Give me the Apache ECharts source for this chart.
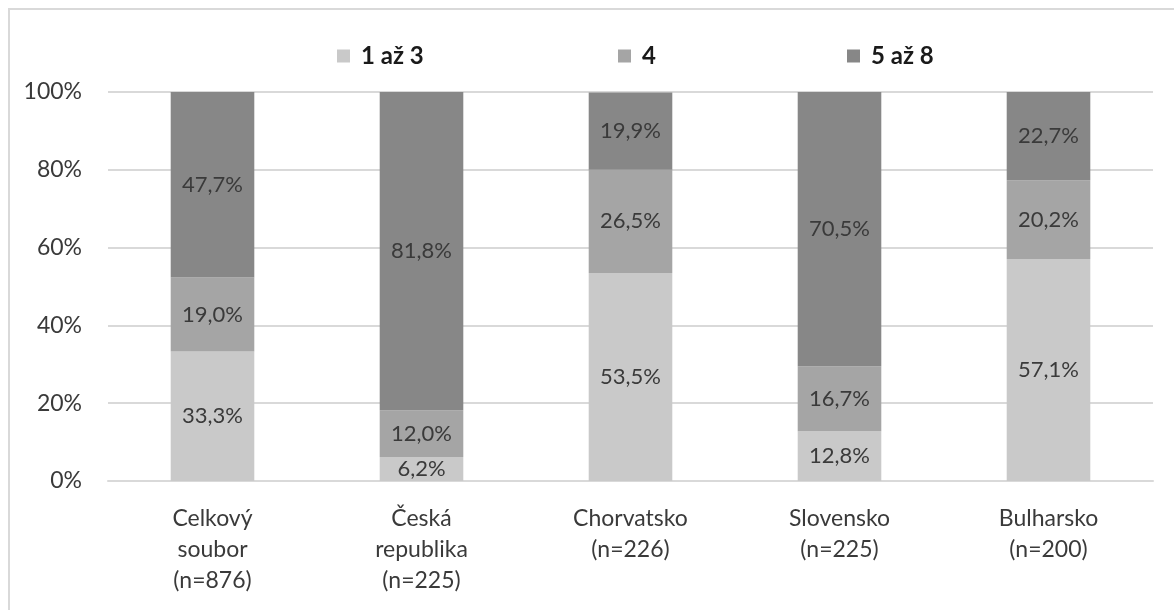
<!DOCTYPE html>
<html>
<head>
<meta charset="utf-8">
<script src="https://cdn.jsdelivr.net/npm/echarts@6/dist/echarts.min.js"></script>
<style>
  html, body { margin: 0; padding: 0; background: #fff; }
  #chart { width: 1174px; height: 610px; }
</style>
</head>
<body>
<div id="chart"></div>
<script>
const categories = ['Celkový\nsoubor\n(n=876)', 'Česká\nrepublika\n(n=225)', 'Chorvatsko\n(n=226)', 'Slovensko\n(n=225)', 'Bulharsko\n(n=200)'];
const seriesNames = ['1 až 3', '4', '5 až 8'];
const low = [33.3, 6.2, 53.5, 12.8, 57.1];
const mid = [19.0, 12.0, 26.5, 16.7, 20.2];
const high = [47.7, 81.8, 19.9, 70.5, 22.7];
const yTicks = [0, 20, 40, 60, 80, 100];

const colors = ['#c9c9c9', '#a5a5a5', '#878787'];
const font = 'Lato';
const textColor = '#3a3a3a';

const chart = echarts.init(document.getElementById('chart'));

const fmt = v => v.toFixed(1).replace('.', ',') + '%';

const makeSeries = (name, data, i) => ({
  name: name,
  type: 'bar',
  stack: 'total',
  data: data,
  barCategoryGap: '60%',
  itemStyle: { color: colors[i] },
  label: {
    show: true,
    position: 'inside',
    color: textColor,
    fontFamily: font,
    fontSize: 22,
    formatter: p => fmt(p.value)
  },
  emphasis: { disabled: true }
});

// one legend per item so they sit where Excel spread them
const legendAt = (name, left) => ({
  data: [name],
  left: left,
  top: 39,
  itemWidth: 13,
  itemHeight: 13,
  icon: 'rect',
  textStyle: { color: '#1a1a1a', fontFamily: font, fontSize: 24, fontWeight: 'bold', padding: [0, 0, 0, 6] }
});

chart.setOption({
  animation: false,
  graphic: [{
    type: 'rect',
    shape: { x: 9, y: 9, width: 1200, height: 700 },
    style: { fill: 'none', stroke: '#d9d9d9', lineWidth: 2 },
    silent: true
  }],
  legend: [
    legendAt(seriesNames[0], 332),
    legendAt(seriesNames[1], 613),
    legendAt(seriesNames[2], 842)
  ],
  grid: { left: 108, right: 21, top: 92, bottom: 129 },
  xAxis: {
    type: 'category',
    data: categories,
    axisLine: { lineStyle: { color: '#d9d9d9', width: 2 } },
    axisTick: { show: false },
    axisLabel: {
      color: textColor,
      fontFamily: font,
      fontSize: 23,
      lineHeight: 31,
      margin: 22
    }
  },
  yAxis: {
    type: 'value',
    min: yTicks[0],
    max: yTicks[yTicks.length - 1],
    interval: 20,
    axisLine: { show: false },
    axisTick: { show: false },
    splitLine: { lineStyle: { color: '#d9d9d9', width: 2 } },
    axisLabel: {
      color: textColor,
      fontFamily: font,
      fontSize: 23,
      margin: 26,
      formatter: v => v + '%'
    }
  },
  series: [
    makeSeries(seriesNames[0], low, 0),
    makeSeries(seriesNames[1], mid, 1),
    makeSeries(seriesNames[2], high, 2)
  ]
});
</script>
</body>
</html>
